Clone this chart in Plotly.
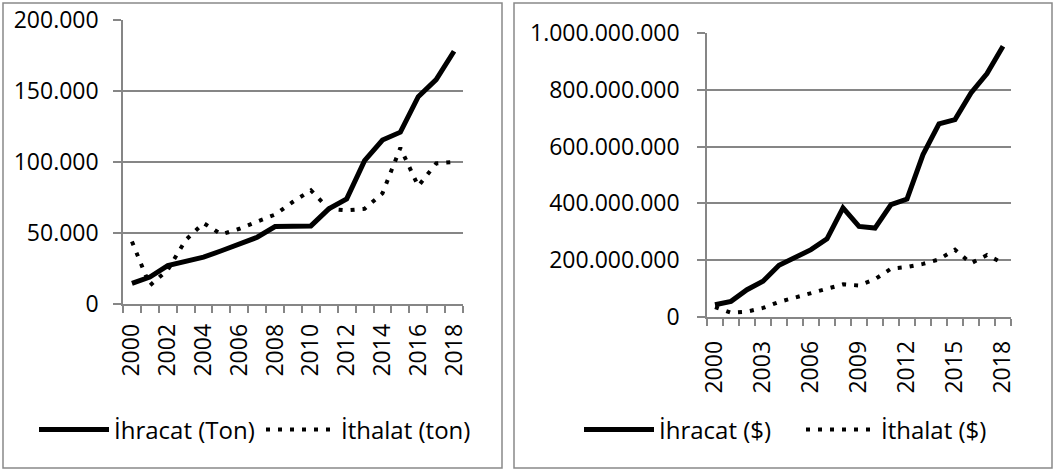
import plotly.graph_objects as go

years = list(range(2000, 2019))
ihracat_ton = [14500, 19000, 27000, 30000, 33000, 37500, 42000, 47000, 54500, 54500,
               55000, 67000, 74000, 101000, 115500, 121000, 146000, 158000, 178000]
ithalat_ton = [44000, 13000, 24000, 45000, 57000, 49000, 53000, 58000, 63000, 72000,
               80000, 67000, 66000, 67000, 78000, 110000, 83000, 99000, 100000]
ihracat_usd = [43e6, 55e6, 96e6, 126e6, 182e6, 208e6, 237e6, 275e6, 384e6, 319e6,
               313e6, 396e6, 415e6, 572e6, 680e6, 695e6, 789e6, 857e6, 953e6]
ithalat_usd = [35e6, 15e6, 19e6, 32e6, 53e6, 69e6, 83e6, 98e6, 115e6, 111e6,
               133e6, 170e6, 176e6, 187e6, 203e6, 237e6, 189e6, 218e6, 190e6]

left_ticks = [str(y) for y in range(2000, 2019, 2)]
right_ticks = [str(y) for y in range(2000, 2019, 3)]

W, H = 1057, 471
FONT = "Open Sans"
FS = 23
LFS = 24
GRID = "#868686"

def px(x):
    return x / W

def py(y):
    return 1 - y / H

idx = list(range(len(years)))

fig = go.Figure()
fig.add_trace(go.Scatter(x=idx, y=ihracat_ton, mode="lines", name="İhracat (Ton)",
                         line=dict(color="black", width=5), xaxis="x", yaxis="y", legend="legend"))
fig.add_trace(go.Scatter(x=idx, y=ithalat_ton, mode="lines", name="İthalat (ton)",
                         line=dict(color="black", width=4, dash="4px,8px"), xaxis="x", yaxis="y", legend="legend"))
fig.add_trace(go.Scatter(x=idx, y=ihracat_usd, mode="lines", name="İhracat ($)",
                         line=dict(color="black", width=5), xaxis="x2", yaxis="y2", legend="legend2"))
fig.add_trace(go.Scatter(x=idx, y=ithalat_usd, mode="lines", name="İthalat ($)",
                         line=dict(color="black", width=4, dash="4px,8px"), xaxis="x2", yaxis="y2", legend="legend2"))

def xaxis(domain, anchor, labels, step, standoff):
    return dict(domain=domain, anchor=anchor, range=[-0.5, len(years) - 0.5],
                tickmode="array", tickvals=list(range(0, len(years), step)), ticktext=labels,
                tickangle=-90, ticks="", showgrid=False, zeroline=False, automargin=False,
                showline=True, linecolor=GRID, linewidth=1.5, ticklabelstandoff=standoff,
                minor=dict(tickmode="array", tickvals=[i - 0.5 for i in range(len(years) + 1)],
                           ticks="outside", ticklen=7, tickcolor=GRID, tickwidth=1.5, showgrid=False),
                tickfont=dict(family=FONT, size=FS, color="black"), fixedrange=True)

def yaxis(domain, anchor, rng, dtick, standoff):
    return dict(domain=domain, anchor=anchor, range=rng, dtick=dtick, tickformat=",",
                showgrid=True, gridcolor=GRID, gridwidth=1.5, zeroline=False, automargin=False,
                showline=True, linecolor=GRID, linewidth=1.5,
                ticks="outside", ticklen=8, tickcolor=GRID, tickwidth=1.5,
                ticklabelstandoff=standoff,
                tickfont=dict(family=FONT, size=FS, color="black"), fixedrange=True)

def legend(x, entry):
    return dict(orientation="h", x=x, y=py(430), xanchor="left", yanchor="middle",
                itemwidth=70, entrywidth=entry, entrywidthmode="pixels",
                font=dict(family=FONT, size=LFS, color="black"), bgcolor="rgba(0,0,0,0)")

fig.update_layout(
    width=W, height=H,
    margin=dict(l=0, r=0, t=0, b=0, pad=0, autoexpand=False),
    paper_bgcolor="white", plot_bgcolor="white",
    separators=",.",
    font=dict(family=FONT, size=FS, color="black"),
    xaxis=xaxis([px(123), px(463)], "y", left_ticks, 2, 9),
    yaxis=yaxis([py(304), py(20)], "x", [0, 200000], 50000, 10),
    xaxis2=xaxis([px(707), px(1011)], "y2", right_ticks, 3, 13),
    yaxis2=yaxis([py(317), py(33)], "x2", [0, 1e9], 2e8, 13),
    legend=legend(px(34), 142),
    legend2=legend(px(579), 137),
    shapes=[
        dict(type="rect", xref="paper", yref="paper", x0=px(3), x1=px(502), y0=py(468), y1=py(3),
             line=dict(color="#898989", width=1.5)),
        dict(type="rect", xref="paper", yref="paper", x0=px(514), x1=px(1052), y0=py(468), y1=py(3),
             line=dict(color="#898989", width=1.5)),
    ],
)

fig.write_html("out.html", config={"displayModeBar": False},
               post_script="document.body.style.margin='0';document.body.style.overflow='hidden';")
